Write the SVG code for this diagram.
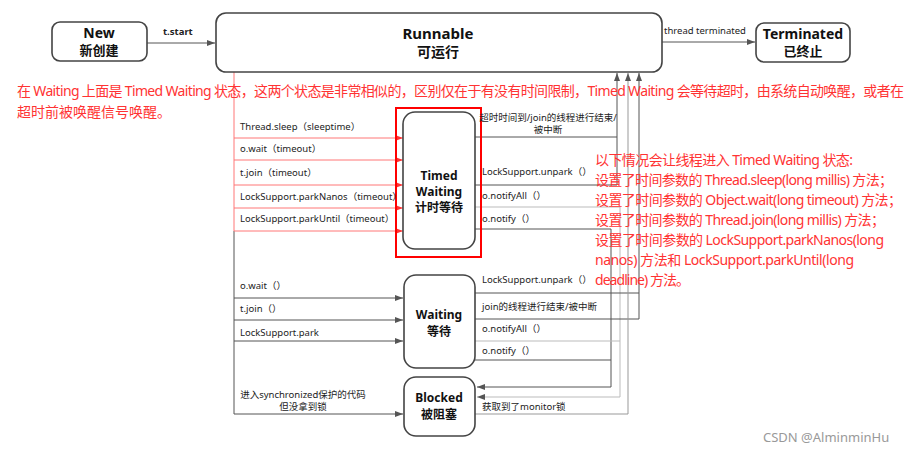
<svg xmlns="http://www.w3.org/2000/svg" width="922" height="451" viewBox="0 0 922 451">
<defs>
<style>
.box{fill:#fff;stroke:#444;stroke-width:1.6}
.title{font-family:"Noto Sans","Noto Sans CJK SC",sans-serif;font-weight:bold;fill:#111;text-anchor:middle}
.lbl{font-family:"Noto Sans","Noto Sans CJK SC",sans-serif;font-size:9.5px;fill:#222}
.red{font-family:"Noto Sans","Noto Sans CJK SC",sans-serif;font-size:14px;fill:#f33}
.c{fill:none;stroke:#555;stroke-width:1}
.cl{fill:none;stroke:#bbb;stroke-width:1}
.cm{fill:none;stroke:#999;stroke-width:1}
.cr{fill:none;stroke:#f77;stroke-width:1}
</style>
<marker id="ag" viewBox="0 0 8 6" refX="8" refY="3" markerWidth="8" markerHeight="6" markerUnits="userSpaceOnUse" orient="auto"><path d="M0,0 L8,3 L0,6 z" fill="#555"/></marker>
<marker id="ar" viewBox="0 0 8 6" refX="8" refY="3" markerWidth="8" markerHeight="6" markerUnits="userSpaceOnUse" orient="auto"><path d="M0,0 L8,3 L0,6 z" fill="#f33"/></marker>
</defs>
<rect width="922" height="451" fill="#fff"/>

<g id="connectors">
<path class="c" d="M147,43 H215" marker-end="url(#ag)"/>
<path class="c" d="M662,42 H755" marker-end="url(#ag)"/>
<path class="cr" d="M234,72 V231"/>
<path class="c" d="M234,231 V414" stroke="#777"/>
<path class="cr" d="M234,138 H403" marker-end="url(#ar)"/>
<path class="cr" d="M234,160 H403" marker-end="url(#ar)"/>
<path class="cr" d="M234,185 H403" marker-end="url(#ar)"/>
<path class="cr" d="M234,208 H403" marker-end="url(#ar)"/>
<path class="cr" d="M234,231 H403" marker-end="url(#ar)"/>
<path class="c" d="M234,298 H403" marker-end="url(#ag)"/>
<path class="c" d="M234,320 H403" marker-end="url(#ag)"/>
<path class="c" d="M234,341 H403" marker-end="url(#ag)"/>
<path class="c" d="M234,414 H403" marker-end="url(#ag)"/>
<path class="c" d="M475,137 H617"/>
<path class="c" d="M475,185 H617 V73" marker-end="url(#ag)"/>
<path class="cl" d="M475,207 H620 V397 H477" marker-end="url(#ag)"/>
<path class="c" d="M475,229 H611 V387 H477" marker-end="url(#ag)"/>
<path class="c" d="M475,293 H639"/>
<path class="c" d="M475,319 H639 V73" marker-end="url(#ag)"/>
<path class="cl" d="M475,341 H620"/>
<path class="c" d="M475,360 H611"/>
<path class="cm" d="M475,414 H628 V73" marker-end="url(#ag)"/>
</g>

<g id="new">
<rect class="box" x="52" y="22" width="95" height="39" rx="8"/>
<text class="title" x="99" y="38" font-size="14">New</text>
<text class="title" x="99" y="55" font-size="13">新创建</text>
</g>
<text class="lbl" x="163" y="35" font-weight="bold" fill="#333">t.start</text>

<g id="runnable">
<rect class="box" x="216" y="13" width="446" height="59" rx="10"/>
<text class="title" x="438" y="39" font-size="15">Runnable</text>
<text class="title" x="438" y="57" font-size="14">可运行</text>
</g>
<text class="lbl" x="664" y="34">thread terminated</text>

<g id="terminated">
<rect class="box" x="756" y="23" width="94" height="39" rx="8"/>
<text class="title" x="803" y="39" font-size="14">Terminated</text>
<text class="title" x="803" y="56" font-size="13">已终止</text>
</g>

<text class="red" x="17" y="96" textLength="887">在 Waiting 上面是 Timed Waiting 状态，这两个状态是非常相似的，区别仅在于有没有时间限制，Timed Waiting 会等待超时，由系统自动唤醒，或者在</text>
<text class="red" x="17" y="117">超时前被唤醒信号唤醒。</text>

<rect x="396" y="108" width="85" height="149" fill="none" stroke="#f00" stroke-width="2"/>
<g id="timed-waiting">
<rect class="box" x="403" y="112" width="72" height="137" rx="12"/>
<text class="title" x="439" y="180" font-size="12">Timed</text>
<text class="title" x="439" y="196" font-size="12">Waiting</text>
<text class="title" x="439" y="212" font-size="12">计时等待</text>
</g>

<g id="waiting">
<rect class="box" x="404" y="275" width="71" height="93" rx="12"/>
<text class="title" x="439" y="319" font-size="12">Waiting</text>
<text class="title" x="439" y="336" font-size="12">等待</text>
</g>

<g id="blocked">
<rect class="box" x="404" y="377" width="71" height="59" rx="12"/>
<text class="title" x="439" y="402" font-size="12">Blocked</text>
<text class="title" x="439" y="419" font-size="12">被阻塞</text>
</g>

<g id="labels">
<text class="lbl" x="240" y="130">Thread.sleep（sleeptime）</text>
<text class="lbl" x="240" y="152">o.wait（timeout）</text>
<text class="lbl" x="240" y="176">t.join（timeout）</text>
<text class="lbl" x="240" y="200">LockSupport.parkNanos（timeout）</text>
<text class="lbl" x="240" y="222">LockSupport.parkUntil（timeout）</text>
<text class="lbl" x="240" y="289">o.wait（）</text>
<text class="lbl" x="240" y="312">t.join（）</text>
<text class="lbl" x="240" y="336">LockSupport.park</text>
<text class="lbl" x="303" y="398" text-anchor="middle" font-size="9">进入synchronized保护的代码</text>
<text class="lbl" x="303" y="410" text-anchor="middle" font-size="9">但没拿到锁</text>
<text class="lbl" x="548" y="121" text-anchor="middle" font-size="9">超时时间到/join的线程进行结束/</text>
<text class="lbl" x="548" y="133" text-anchor="middle" font-size="9">被中断</text>
<text class="lbl" x="482" y="175">LockSupport.unpark（）</text>
<text class="lbl" x="482" y="199">o.notifyAll（）</text>
<text class="lbl" x="482" y="222">o.notify（）</text>
<text class="lbl" x="482" y="283">LockSupport.unpark（）</text>
<text class="lbl" x="482" y="310">join的线程进行结束/被中断</text>
<text class="lbl" x="482" y="332">o.notifyAll（）</text>
<text class="lbl" x="482" y="354">o.notify（）</text>
<text class="lbl" x="482" y="410">获取到了monitor锁</text>
</g>

<g id="note">
<text class="red" x="595" y="165" textLength="258">以下情况会让线程进入 Timed Waiting 状态:</text>
<text class="red" x="595" y="185" textLength="298">设置了时间参数的 Thread.sleep(long millis) 方法；</text>
<text class="red" x="595" y="205" textLength="307">设置了时间参数的 Object.wait(long timeout) 方法；</text>
<text class="red" x="595" y="225" textLength="290">设置了时间参数的 Thread.join(long millis) 方法；</text>
<text class="red" x="595" y="245" textLength="289">设置了时间参数的 LockSupport.parkNanos(long</text>
<text class="red" x="595" y="265" textLength="259">nanos) 方法和 LockSupport.parkUntil(long</text>
<text class="red" x="595" y="285" textLength="95">deadline) 方法。</text>
</g>

<text x="763" y="442" font-family="'Noto Sans','Liberation Sans',sans-serif" font-size="13" fill="#999">CSDN @AlminminHu</text>
</svg>
